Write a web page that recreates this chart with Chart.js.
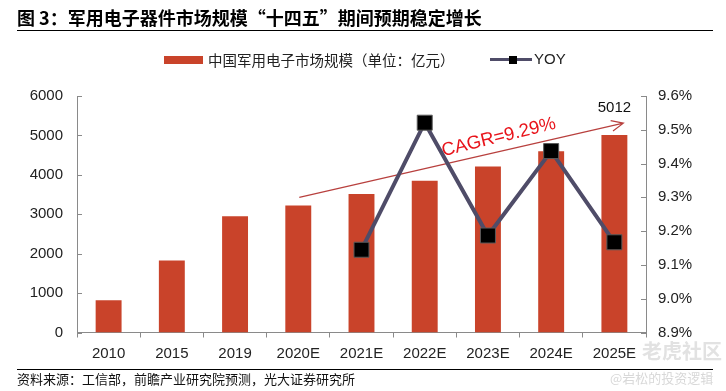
<!DOCTYPE html>
<html>
<head>
<meta charset="utf-8">
<script src="https://cdn.jsdelivr.net/npm/chart.js@4.4.1/dist/chart.umd.min.js"></script>
<style>
  html, body { margin:0; padding:0; background:#fff; }
  #wrap { position:relative; width:726px; height:391px; overflow:hidden; }
  #c { position:absolute; left:0; top:0; }
  .abs { position:absolute; white-space:nowrap; }
  #title { left:17px; top:5px; font:bold 18px "Noto Sans CJK SC", sans-serif; color:#000; line-height:24px; }
  #tline { left:17px; top:30px; width:696px; height:0; border-top:1.5px solid #000; }
  #sline { left:17px; top:369px; width:696px; height:0; border-top:1.5px solid #000; }
  #source { left:17px; top:370px; font:13px "Noto Sans CJK SC", sans-serif; color:#111; line-height:18px; }
  #lgbox { left:164px; top:56px; width:39px; height:8px; background:#C9432A; }
  #lgtext { left:208px; top:50px; font:14.5px "Noto Sans CJK SC", sans-serif; color:#222; line-height:20px; }
  #lgline { left:490px; top:58px; width:42px; height:3px; background:#4F4C68; }
  #lgmark { left:509px; top:55.5px; width:8px; height:8px; background:#000; }
  #lgyoy { left:534px; top:50px; font:15px "Liberation Sans", Arial, sans-serif; color:#222; line-height:18px; }
  #wm1 { left:642px; top:336px; font:bold 20px "Noto Sans CJK SC", sans-serif; color:#e2e2e2; }
  #wm2 { left:610px; top:368px; font:13px "Noto Sans CJK SC", sans-serif; color:#d8d8d8; }
</style>
</head>
<body>
<div id="wrap">
  <canvas id="c" width="726" height="391"></canvas>
  <div class="abs" id="title">图 3：军用电子器件市场规模“十四五”期间预期稳定增长</div>
  <div class="abs" id="tline"></div>
  <div class="abs" id="lgbox"></div>
  <div class="abs" id="lgtext">中国军用电子市场规模（单位：亿元）</div>
  <div class="abs" id="lgline"></div>
  <div class="abs" id="lgmark"></div>
  <div class="abs" id="lgyoy">YOY</div>
  <div class="abs" id="sline"></div>
  <div class="abs" id="source">资料来源：工信部，前瞻产业研究院预测，光大证券研究所</div>
  <div class="abs" id="wm1">老虎社区</div>
  <div class="abs" id="wm2">@岩松的投资逻辑</div>
</div>
<script>
// ---- data ----
const categories = ['2010','2015','2019','2020E','2021E','2022E','2023E','2024E','2025E'];
const marketSize = [820, 1826, 2950, 3220, 3515, 3850, 4210, 4600, 5012];   // 亿元
const yoy = [null, null, null, null, 9.145, 9.521, 9.187, 9.437, 9.167];      // %
const leftTicks = [0, 1000, 2000, 3000, 4000, 5000, 6000];
const rightTicks = [8.9, 9.0, 9.1, 9.2, 9.3, 9.4, 9.5, 9.6];
const cagrLabel = 'CAGR=9.29%';
const cagrFrom = ['2020E', 3430];   // category, left-axis value
const cagrTo = ['2025E', 5310];
const lastBarLabel = '5012';

const AXIS = '#8a8a8a';
const FONT = '"Liberation Sans", Arial, sans-serif';

const decorPlugin = {
  id: 'decor',
  afterDatasetDraw(chart, args) {
    if (args.index !== 0) return;
    const ctx = chart.ctx, xs = chart.scales.x, ys = chart.scales.y;
    const x0 = xs.getPixelForValue(categories.indexOf(cagrFrom[0])) + 1;
    const y0 = ys.getPixelForValue(cagrFrom[1]);
    const x1 = xs.getPixelForValue(categories.indexOf(cagrTo[0])) + 9;
    const y1 = ys.getPixelForValue(cagrTo[1]);
    const ang = Math.atan2(y1 - y0, x1 - x0);
    ctx.save();
    ctx.strokeStyle = '#B8403E';
    ctx.lineWidth = 1.2;
    ctx.beginPath();
    ctx.moveTo(x0, y0); ctx.lineTo(x1, y1);
    const L = 13, a = 0.42;
    ctx.moveTo(x1 - L * Math.cos(ang - a), y1 - L * Math.sin(ang - a));
    ctx.lineTo(x1, y1);
    ctx.lineTo(x1 - L * Math.cos(ang + a), y1 - L * Math.sin(ang + a));
    ctx.stroke();
    // label along the arrow
    const t = 0.625;
    const mx = x0 + (x1 - x0) * t, my = y0 + (y1 - y0) * t;
    ctx.translate(mx + 14 * Math.sin(ang), my - 14 * Math.cos(ang));
    ctx.rotate(ang - 0.015);
    ctx.fillStyle = '#E8141B';
    ctx.font = '18.5px ' + FONT;
    ctx.textAlign = 'center';
    ctx.textBaseline = 'middle';
    ctx.fillText(cagrLabel, 0, 0);
    ctx.restore();
  },
  afterDatasetsDraw(chart) {
    const ctx = chart.ctx, ys = chart.scales.y, y1s = chart.scales.y1;
    ctx.save();
    ctx.strokeStyle = AXIS; ctx.lineWidth = 1;
    leftTicks.forEach(v => {
      const p = Math.round(ys.getPixelForValue(v)) + 0.5;
      ctx.beginPath(); ctx.moveTo(ys.right, p); ctx.lineTo(ys.right + 5, p); ctx.stroke();
    });
    rightTicks.forEach(v => {
      const p = Math.round(y1s.getPixelForValue(v)) + 0.5;
      ctx.beginPath(); ctx.moveTo(y1s.left - 5, p); ctx.lineTo(y1s.left, p); ctx.stroke();
    });
    const el = chart.getDatasetMeta(0).data[categories.length - 1];
    ctx.fillStyle = '#111';
    ctx.font = '15px ' + FONT;
    ctx.textAlign = 'center'; ctx.textBaseline = 'middle';
    ctx.fillText(lastBarLabel, el.x, el.y - 27);
    ctx.restore();
  }
};

new Chart(document.getElementById('c'), {
  data: {
    labels: categories,
    datasets: [
      { type: 'bar', label: '中国军用电子市场规模（单位：亿元）', data: marketSize, yAxisID: 'y',
        backgroundColor: '#C9432A', categoryPercentage: 1, barPercentage: 0.41, order: 2 },
      { type: 'line', label: 'YOY', data: yoy, yAxisID: 'y1',
        borderColor: '#4F4C68', borderWidth: 4, tension: 0,
        pointStyle: 'rect', pointRadius: 10.6, pointHoverRadius: 10.6,
        pointBackgroundColor: '#000', pointBorderColor: '#5a5a5a', pointBorderWidth: 1, order: 1 }
    ]
  },
  options: {
    responsive: false,
    animation: false,
    devicePixelRatio: 1,
    layout: { padding: { top: 96, left: 0, right: 0, bottom: 0 } },
    plugins: { legend: { display: false }, tooltip: { enabled: false } },
    scales: {
      x: {
        offset: true,
        grid: { display: true, drawOnChartArea: false, drawTicks: true, tickLength: 5, color: AXIS, offset: true },
        border: { display: true, color: AXIS, width: 1 },
        ticks: { font: { family: FONT, size: 15 }, color: '#222', padding: 7, maxRotation: 0, autoSkip: false },
        afterFit(s) { s.height = 58.5; }
      },
      y: {
        position: 'left', min: 0, max: 6000,
        grid: { display: false, drawTicks: false },
        border: { display: true, color: AXIS, width: 1 },
        ticks: { stepSize: 1000, padding: 14, font: { family: FONT, size: 15 }, color: '#222',
          callback: v => String(Math.round(v)) },
        afterBuildTicks(s) { s.ticks = leftTicks.map(v => ({ value: v })); },
        afterFit(s) { s.width = 77; }
      },
      y1: {
        position: 'right', min: 8.9, max: 9.6,
        grid: { display: false, drawTicks: false },
        border: { display: true, color: AXIS, width: 1 },
        ticks: { stepSize: 0.1, padding: 12, font: { family: FONT, size: 15 }, color: '#222',
          callback: v => Number(v).toFixed(1) + '%' },
        afterBuildTicks(s) { s.ticks = rightTicks.map(v => ({ value: v })); },
        afterFit(s) { s.width = 80; }
      }
    }
  },
  plugins: [decorPlugin]
});
</script>
</body>
</html>
